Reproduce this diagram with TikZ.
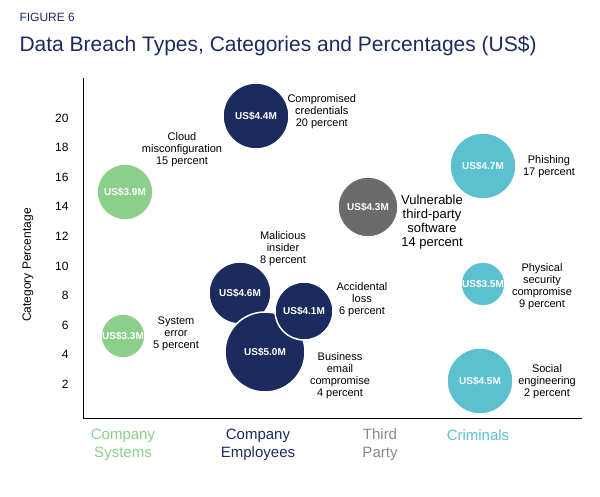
\documentclass[tikz,border=0pt]{standalone}
\usepackage{fontspec}
\setmainfont{Liberation Sans}
\definecolor{cgreen}{HTML}{8CCF8A}
\definecolor{cnavy}{HTML}{1C2B5E}
\definecolor{cgray}{HTML}{6B6B6B}
\definecolor{cteal}{HTML}{5BC0CF}
\begin{document}
\begin{tikzpicture}[x=1pt, y=-1pt, font=\fontsize{11}{12}\selectfont,
  bubble/.style={circle, draw=white, line width=1.5pt, inner sep=0pt, text=white,
    font=\fontsize{10}{11}\selectfont\bfseries},
  blabel/.style={align=center, font=\fontsize{11}{12}\selectfont},
  tick/.style={anchor=east, font=\fontsize{12}{12}\selectfont}]
  \useasboundingbox (0,0) rectangle (600,497);
  % title
  \node[anchor=west, font=\fontsize{12}{12}\selectfont, text=cnavy] (fig) at (16,17) {FIGURE 6};
  \node[anchor=west, font=\fontsize{21}{23}\selectfont, text=cnavy] (title) at (16,46)
    {Data Breach Types, Categories and Percentages (US\$)};
  % axes
  \coordinate (top) at (83,78);
  \coordinate (orig) at (83,418);
  \coordinate (right) at (582,418);
  \draw[black, line width=1pt] (top) -- (orig) -- (right);
  \foreach \v in {2,4,...,20}
    \node[tick] (t\v) at (72,{118+(20-\v)*14.8}) {\v};
  \node[rotate=90, font=\fontsize{12}{12}\selectfont] (ylab) at (28,265) {Category Percentage};
  % bubbles
  \node[bubble, fill=cgreen, minimum size=56] (cloud) at (125,192) {US\$3.9M};
  \node[bubble, fill=cgreen, minimum size=44] (syserr) at (123,336) {US\$3.3M};
  \node[bubble, fill=cnavy, minimum size=66] (cred) at (256,116) {US\$4.4M};
  \node[bubble, fill=cnavy, minimum size=62] (insider) at (240,293) {US\$4.6M};
  \node[bubble, fill=cnavy, minimum size=80] (bec) at (265,352) {US\$5.0M};
  \node[bubble, fill=cnavy, minimum size=58] (loss) at (304,311) {US\$4.1M};
  \node[bubble, fill=cgray, minimum size=60] (vuln) at (368,207) {US\$4.3M};
  \node[bubble, fill=cteal, minimum size=66] (phish) at (483,166) {US\$4.7M};
  \node[bubble, fill=cteal, minimum size=44] (phys) at (483,284) {US\$3.5M};
  \node[bubble, fill=cteal, minimum size=66] (social) at (480,381) {US\$4.5M};
  % labels
  \node[blabel] (cloudl) at (182,150) {Cloud\\misconfiguration\\15 percent};
  \node[blabel] (syserrl) at (176,334) {System\\error\\5 percent};
  \node[blabel, anchor=west] (credl) at (284,112) {Compromised\\credentials\\20 percent};
  \node[blabel] (insiderl) at (283,249) {Malicious\\insider\\8 percent};
  \node[blabel] (lossl) at (362,300) {Accidental\\loss\\6 percent};
  \node[blabel] (becl) at (340,376) {Business\\email\\compromise\\4 percent};
  \node[blabel, font=\fontsize{13}{14}\selectfont] (vulnl) at (432,222) {Vulnerable\\third-party\\software\\14 percent};
  \node[blabel] (phishl) at (549,167) {Phishing\\17 percent};
  \node[blabel] (physl) at (542,287) {Physical\\security\\compromise\\9 percent};
  \node[blabel] (sociall) at (547,382) {Social\\engineering\\2 percent};
  % categories
  \node[align=center, text=cgreen, font=\fontsize{15}{18}\selectfont] (csys) at (123,445) {Company\\Systems};
  \node[align=center, text=cnavy, font=\fontsize{15}{18}\selectfont] (cemp) at (258,445) {Company\\Employees};
  \node[align=center, text=cgray!80, font=\fontsize{15}{18}\selectfont] (third) at (380,445) {Third\\Party};
  \node[align=center, text=cteal, font=\fontsize{15}{18}\selectfont, anchor=north] (crim) at (478,426) {Criminals};
\end{tikzpicture}
\end{document}
